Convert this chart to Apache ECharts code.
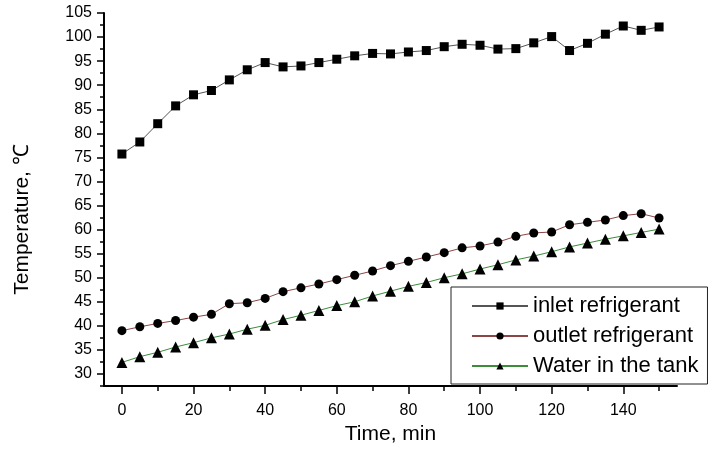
<!DOCTYPE html>
<html>
<head>
<meta charset="utf-8">
<script src="https://cdn.jsdelivr.net/npm/echarts@6/dist/echarts.min.js"></script>
<style>html,body{margin:0;padding:0;background:#fff;}#c{width:709px;height:450px;}</style>
</head>
<body>
<div id="c"></div>
<script>
var times = [0,5,10,15,20,25,30,35,40,45,50,55,60,65,70,75,80,85,90,95,100,105,110,115,120,125,130,135,140,145,150];
var inlet = [75.7,78.2,82.0,85.7,88.0,88.9,91.1,93.2,94.7,93.8,94.0,94.7,95.4,96.1,96.6,96.5,96.9,97.2,98.0,98.5,98.3,97.5,97.6,98.8,100.1,97.2,98.7,100.6,102.3,101.4,102.1];
var outlet = [39.0,39.8,40.5,41.1,41.8,42.4,44.6,44.8,45.7,47.1,47.9,48.7,49.6,50.5,51.4,52.5,53.4,54.3,55.2,56.2,56.6,57.4,58.6,59.3,59.5,61.0,61.5,62.0,62.9,63.3,62.4];
var water = [32.4,33.6,34.5,35.6,36.5,37.5,38.3,39.3,40.1,41.3,42.2,43.2,44.2,45.0,46.2,47.2,48.2,49.0,50.0,50.8,51.8,52.7,53.7,54.5,55.4,56.4,57.2,58.0,58.7,59.4,60.1];
var seriesNames = ['inlet refrigerant','outlet refrigerant','Water in the tank'];
var xTicks = [0,20,40,60,80,100,120,140];
var xMinorTicks = [10,30,50,70,90,110,130,150];
var yTicks = [30,35,40,45,50,55,60,65,70,75,80,85,90,95,100,105];
var yMinorTicks = [27.5,32.5,37.5,42.5,47.5,52.5,57.5,62.5,67.5,72.5,77.5,82.5,87.5,92.5,97.5,102.5];

function pairs(vals){ return times.map(function(t,i){ return [t, vals[i]]; }); }

var FONT = 'Liberation Sans, Arial, sans-serif';
var chart = echarts.init(document.getElementById('c'));
chart.setOption({
  animation: false,
  backgroundColor: '#fff',
  grid: { left: 104, right: 32, top: 13, bottom: 64, containLabel: false },
  legend: {
    orient: 'vertical',
    left: 451, top: 287,
    padding: [8, 9, 7, 20],
    borderColor: '#222', borderWidth: 1,
    backgroundColor: '#fff',
    itemWidth: 56, itemHeight: 9, itemGap: 8,
    textStyle: { fontFamily: FONT, fontSize: 22, color: '#000', lineHeight: 21.5 },
    data: seriesNames
  },
  xAxis: [{
    type: 'value', min: -5, max: 155, position: 'bottom',
    name: 'Time, min', nameLocation: 'middle', nameGap: 37,
    nameTextStyle: { fontFamily: FONT, fontSize: 21, color: '#000' },
    axisLine: { show: true, onZero: false, lineStyle: { color: '#000', width: 2 } },
    axisTick: { show: true, inside: false, length: 8, customValues: xTicks, lineStyle: { color: '#000', width: 1.5 } },
    axisLabel: { customValues: xTicks, margin: 17, fontFamily: FONT, fontSize: 16, color: '#000' },
    splitLine: { show: false }
  }, {
    type: 'value', min: -5, max: 155, position: 'bottom', offset: 0,
    axisLine: { show: false, onZero: false },
    axisTick: { show: true, inside: false, length: 5, customValues: xMinorTicks, lineStyle: { color: '#000', width: 1.5 } },
    axisLabel: { show: false },
    splitLine: { show: false }
  }],
  yAxis: [{
    type: 'value', min: 27.5, max: 105, position: 'left',
    name: 'Temperature, \u2103', nameLocation: 'middle', nameGap: 71,
    nameTextStyle: { fontFamily: FONT, fontSize: 21, color: '#000', padding: [0, 40, 0, 0] },
    axisLine: { show: true, onZero: false, lineStyle: { color: '#000', width: 2 } },
    axisTick: { show: true, inside: false, length: 7, customValues: yTicks, lineStyle: { color: '#000', width: 1.5 } },
    axisLabel: { customValues: yTicks, margin: 12, fontFamily: FONT, fontSize: 16, color: '#000' },
    splitLine: { show: false }
  }, {
    type: 'value', min: 27.5, max: 105, position: 'left', offset: 0,
    axisLine: { show: false, onZero: false },
    axisTick: { show: true, inside: false, length: 4, customValues: yMinorTicks, lineStyle: { color: '#000', width: 1.5 } },
    axisLabel: { show: false },
    splitLine: { show: false }
  }],
  series: [{
    name: seriesNames[0], type: 'line', data: pairs(inlet),
    symbol: 'rect', symbolSize: 9,
    itemStyle: { color: '#000' },
    lineStyle: { color: '#555', width: 1 }
  }, {
    name: seriesNames[1], type: 'line', data: pairs(outlet),
    symbol: 'circle', symbolSize: 9,
    itemStyle: { color: '#000' },
    lineStyle: { color: '#8b4545', width: 1 }
  }, {
    name: seriesNames[2], type: 'line', data: pairs(water),
    symbol: 'triangle', symbolSize: 11,
    itemStyle: { color: '#000' },
    lineStyle: { color: '#3c8c3c', width: 1 }
  }]
});
</script>
</body>
</html>
